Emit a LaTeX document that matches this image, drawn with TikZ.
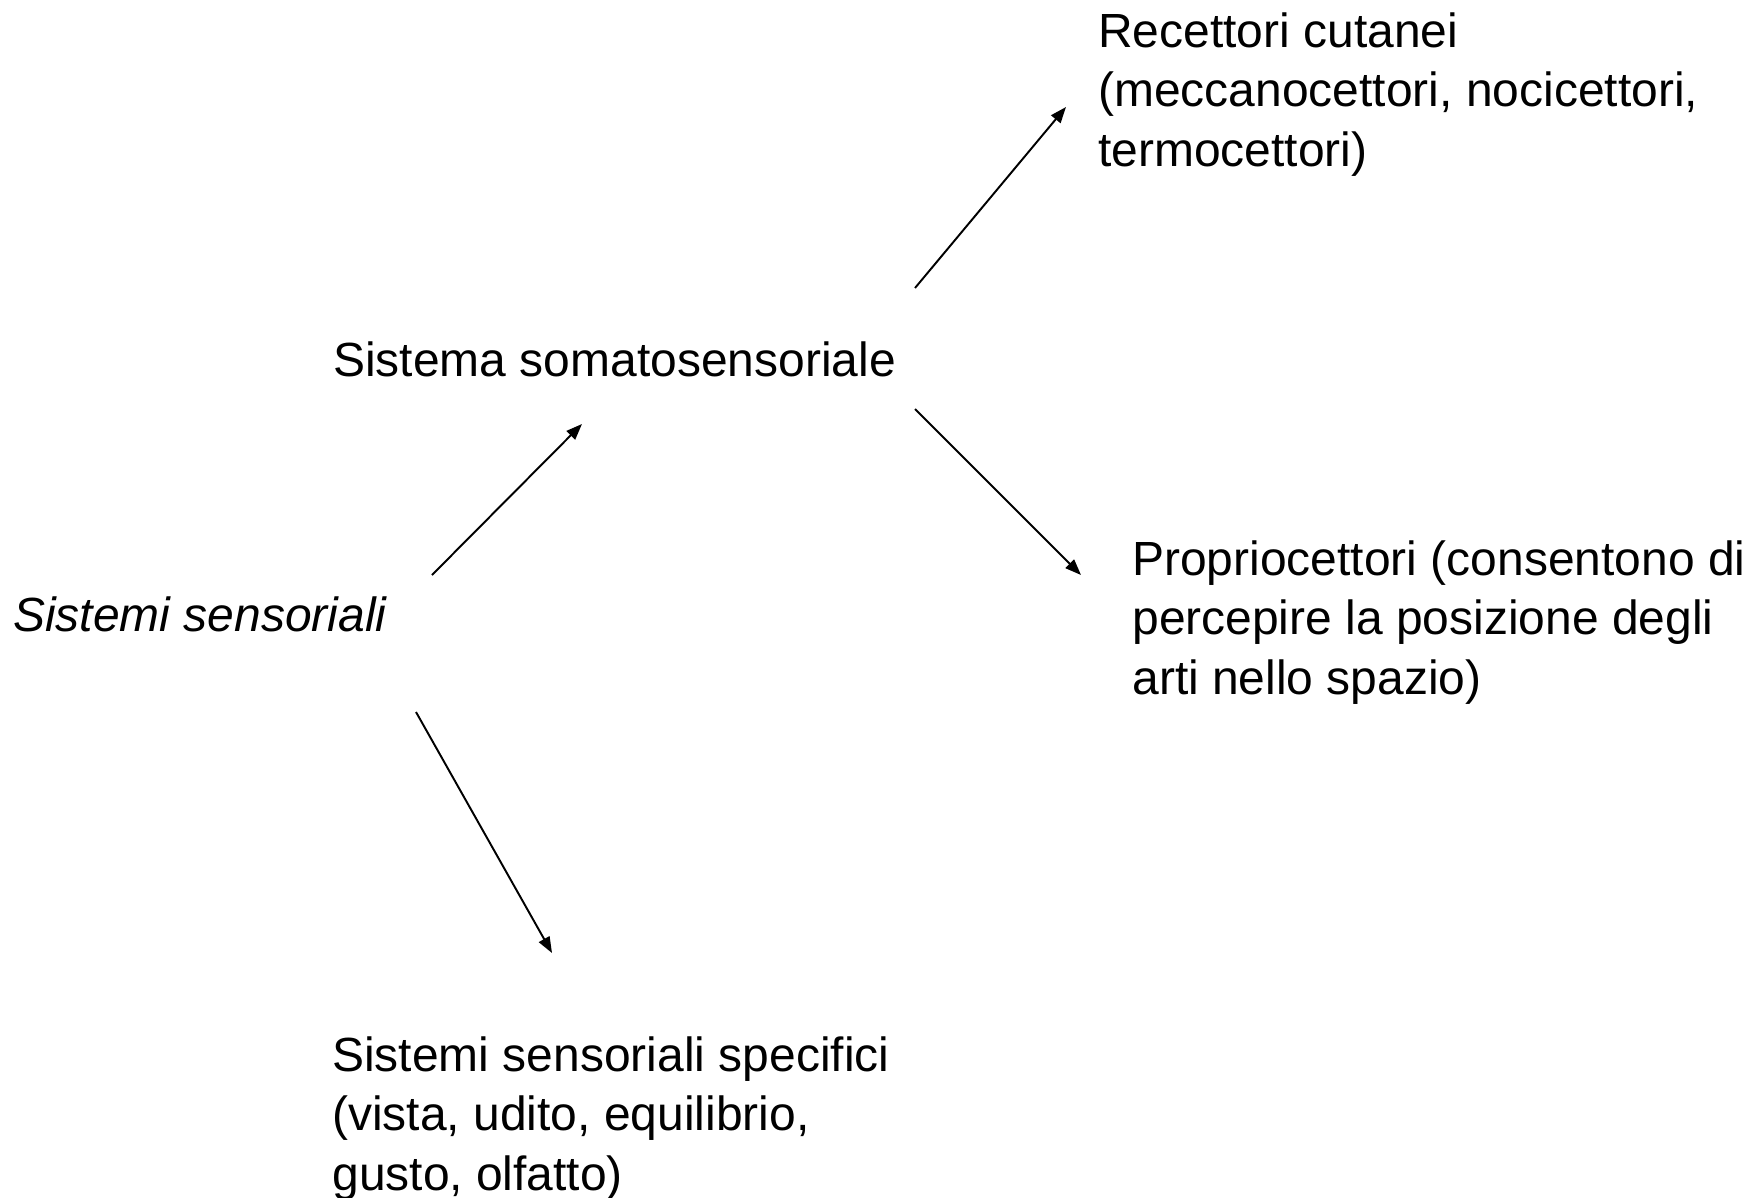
\documentclass[tikz,border=0pt]{standalone}
\usepackage{fontspec}
\setmainfont{Liberation Sans}
\usepackage{tikz}
\usetikzlibrary{arrows.meta,positioning}
\definecolor{sblack}{RGB}{0,0,0}

\begin{document}
\begin{tikzpicture}[
    x=0.02cm, y=-0.02cm,
    label_text/.style={anchor=base west, inner sep=0pt, align=left, text=sblack,
        font=\fontsize{27.3}{33.8}\selectfont},
    link_edge/.style={-{Triangle[length=0.32cm, width=0.24cm]}, line width=1.1pt, sblack}
]
\useasboundingbox (0,0) rectangle (1758,1197);

% Root (left)
\node[label_text, font=\fontsize{27.3}{33.8}\selectfont\itshape] (root) at (13,631) {Sistemi sensoriali};

% Second level
\node[label_text] (soma) at (333,376) {Sistema somatosensoriale};
\node[label_text] (spec) at (332,1190) {Sistemi sensoriali specifici\\(vista, udito, equilibrio,\\gusto, olfatto)};

% Third level (right)
\node[label_text] (cute) at (1098,166) {Recettori cutanei\\(meccanocettori, nocicettori,\\termocettori)};
\node[label_text] (prop) at (1132,694) {Propriocettori (consentono di\\percepire la posizione degli\\arti nello spazio)};

% Arrow ends
\coordinate (root_up) at (432,575);
\coordinate (soma_in) at (582,424);
\coordinate (root_dn) at (416,712);
\coordinate (spec_in) at (552,953);
\coordinate (soma_up) at (915,288);
\coordinate (cute_in) at (1066,107);
\coordinate (soma_dn) at (915,409);
\coordinate (prop_in) at (1081,575);

\draw[link_edge] (root_up) -- (soma_in);
\draw[link_edge] (root_dn) -- (spec_in);
\draw[link_edge] (soma_up) -- (cute_in);
\draw[link_edge] (soma_dn) -- (prop_in);

\end{tikzpicture}
\end{document}
